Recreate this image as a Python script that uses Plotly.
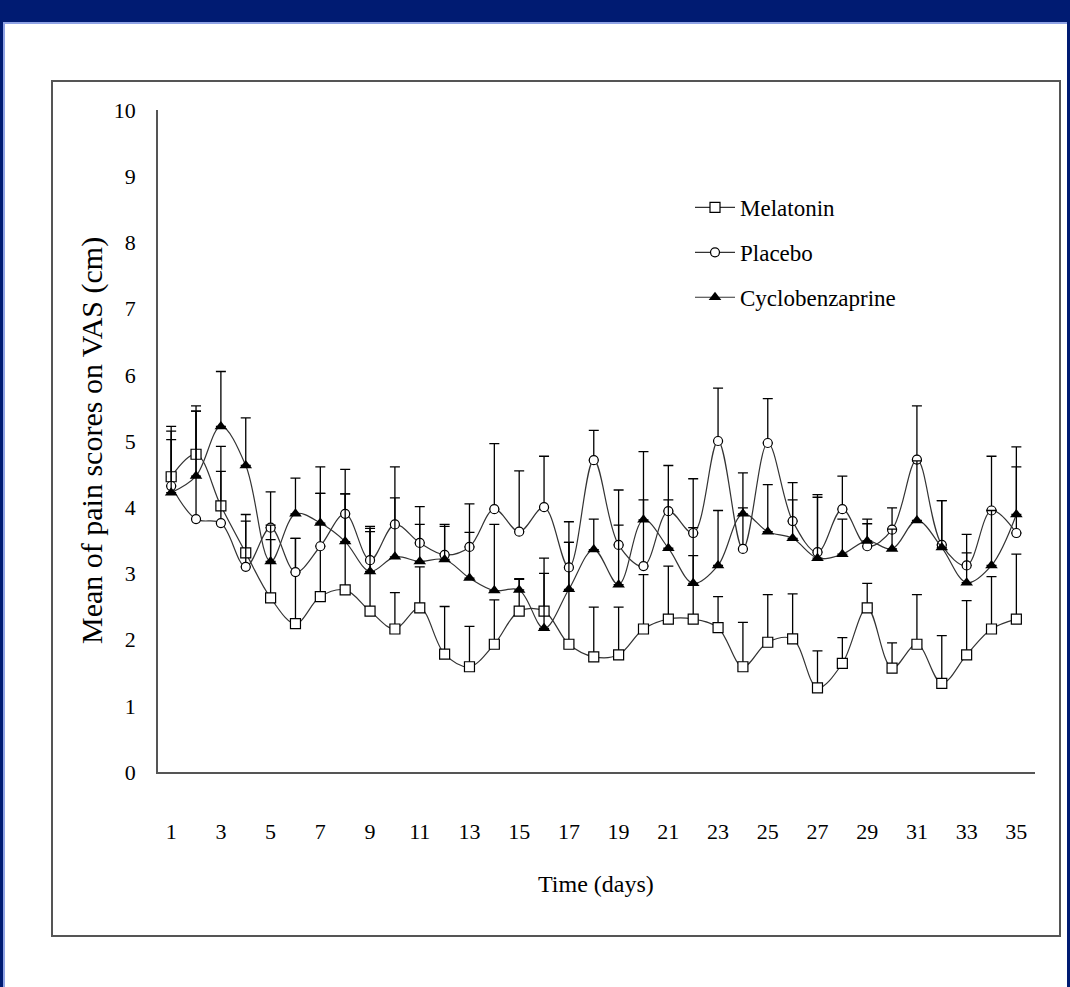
import plotly.graph_objects as go

days = list(range(1, 36))
tick_days = list(range(1, 36, 2))

melatonin = [4.46, 4.80, 4.02, 3.31, 2.63, 2.24, 2.65, 2.75, 2.43, 2.16,
             2.48, 1.78, 1.59, 1.93, 2.43, 2.43, 1.93, 1.74, 1.77, 2.16,
             2.31, 2.31, 2.18, 1.59, 1.96, 2.01, 1.27, 1.64, 2.48, 1.57,
             1.93, 1.34, 1.77, 2.16, 2.31]
melatonin_err = [0.76, 0.73, 0.90, 0.58, 0.88, 1.29, 1.56, 1.45, 1.25, 0.55,
                 0.62, 0.72, 0.61, 0.67, 0.48, 0.80, 1.54, 0.75, 0.72, 0.82,
                 0.80, 0.96, 0.47, 0.67, 0.72, 0.68, 0.56, 0.39, 0.37, 0.38,
                 0.75, 0.72, 0.82, 0.79, 0.98]

placebo = [4.32, 3.82, 3.76, 3.10, 3.69, 3.02, 3.41, 3.90, 3.20, 3.74,
           3.46, 3.28, 3.40, 3.97, 3.63, 4.00, 3.09, 4.71, 3.43, 3.11,
           3.94, 3.61, 5.00, 3.37, 4.97, 3.79, 3.32, 3.97, 3.41, 3.66,
           4.72, 3.43, 3.12, 3.95, 3.61]
placebo_err = [0.83, 1.63, 0.78, 0.69, 0.54, 0.51, 0.80, 0.67, 0.51, 0.87,
               0.55, 0.46, 0.65, 0.99, 0.92, 0.77, 0.69, 0.45, 0.83, 1.00,
               0.69, 0.82, 0.80, 0.62, 0.67, 0.58, 0.87, 0.50, 0.34, 0.33,
               0.81, 0.67, 0.47, 0.82, 1.00]

cyclobenzaprine = [4.22, 4.47, 5.22, 4.63, 3.18, 3.90, 3.76, 3.48, 3.03, 3.25,
                   3.18, 3.21, 2.93, 2.74, 2.75, 2.17, 2.76, 3.36, 2.83, 3.81,
                   3.38, 2.85, 3.12, 3.90, 3.63, 3.53, 3.23, 3.29, 3.49, 3.37,
                   3.80, 3.39, 2.86, 3.12, 3.89]
cyclobenzaprine_err = [0.80, 0.98, 0.83, 0.72, 0.55, 0.54, 0.85, 0.72, 0.60, 0.89,
                       0.56, 0.50, 0.69, 1.00, 0.17, 0.83, 0.71, 0.46, 0.90, 1.03,
                       0.73, 0.84, 0.83, 0.62, 0.71, 0.58, 0.92, 0.53, 0.33, 0.30,
                       0.90, 0.71, 0.45, 0.83, 1.02]

W, H = 1070, 987
ML, MR, MT, MB = 158, 35, 110, 215
PW, PH = W - ML - MR, H - MT - MB


def px(x):
    return (x - ML) / PW


def py(y):
    return (H - MB - y) / PH


FONT = "Liberation Serif, Times New Roman, serif"
NAVY = "#001B72"

fig = go.Figure()

series = [
    ("Melatonin", melatonin, melatonin_err,
     dict(symbol="square", size=10, color="white", line=dict(width=1.2, color="black"))),
    ("Placebo", placebo, placebo_err,
     dict(symbol="circle", size=9, color="white", line=dict(width=1.2, color="black"))),
    ("Cyclobenzaprine", cyclobenzaprine, cyclobenzaprine_err,
     dict(symbol="triangle-up", size=11, color="black", line=dict(width=0))),
]

for i, (name, vals, err, mk) in enumerate(series):
    fig.add_trace(go.Scatter(
        x=days, y=vals, name=name, mode="lines+markers",
        line=dict(shape="spline", smoothing=1, color="#333333", width=1.2),
        marker=mk,
        legendgroup=f"g{i}",
        error_y=dict(type="data", symmetric=False, array=err,
                     arrayminus=[0] * len(err), color="black",
                     thickness=1.3, width=5),
    ))

shapes = [
    dict(type="rect", xref="paper", yref="paper", x0=px(0), x1=px(W), y0=py(0), y1=py(22),
         fillcolor=NAVY, line_width=0, layer="below"),
    dict(type="rect", xref="paper", yref="paper", x0=px(0), x1=px(3), y0=py(0), y1=py(H),
         fillcolor=NAVY, line_width=0, layer="below"),
    dict(type="rect", xref="paper", yref="paper", x0=px(1067), x1=px(W), y0=py(0), y1=py(H),
         fillcolor=NAVY, line_width=0, layer="below"),
    dict(type="line", xref="paper", yref="paper", x0=px(3), x1=px(1067), y0=py(23), y1=py(23),
         line=dict(color="#8FA3E6", width=2), layer="below"),
    dict(type="line", xref="paper", yref="paper", x0=px(4), x1=px(4), y0=py(23), y1=py(H),
         line=dict(color="#8FA3E6", width=2), layer="below"),
    dict(type="rect", xref="paper", yref="paper", x0=px(52), x1=px(1060), y0=py(81), y1=py(936),
         line=dict(color="#555555", width=2), fillcolor="rgba(0,0,0,0)", layer="below"),
]

annotations = [
    dict(text="Time (days)", xref="paper", yref="paper", x=px(596), y=py(884),
         showarrow=False, font=dict(family=FONT, size=24, color="black"),
         xanchor="center", yanchor="middle"),
    dict(text="Mean of pain scores on VAS (cm)", xref="paper", yref="paper",
         x=px(92), y=py(441), textangle=-90, showarrow=False,
         font=dict(family=FONT, size=30, color="black"),
         xanchor="center", yanchor="middle"),
]

fig.update_layout(
    width=W, height=H,
    margin=dict(l=ML, r=MR, t=MT, b=MB),
    paper_bgcolor="white", plot_bgcolor="rgba(0,0,0,0)",
    font=dict(family=FONT, size=21, color="black"),
    showlegend=True,
    legend=dict(x=px(690), y=py(186), xanchor="left", yanchor="top",
                bgcolor="rgba(0,0,0,0)", font=dict(family=FONT, size=23),
                tracegroupgap=12, itemwidth=40),
    shapes=shapes,
    annotations=annotations,
    xaxis=dict(range=[0.47, 35.75], tickvals=tick_days, showgrid=False, zeroline=False,
               showline=True, linecolor="#555555", linewidth=1.5,
               ticks="outside", ticklen=39, tickcolor="rgba(0,0,0,0)",
               tickfont=dict(family=FONT, size=22)),
    yaxis=dict(range=[0, 10], dtick=1, showgrid=False, zeroline=False,
               showline=True, linecolor="#555555", linewidth=1.5,
               ticks="outside", ticklen=16, tickcolor="rgba(0,0,0,0)",
               tickfont=dict(family=FONT, size=22)),
)

fig.write_html("out.html", config={"displayModeBar": False},
               post_script="document.body.style.margin='0';document.body.style.overflow='hidden';")
